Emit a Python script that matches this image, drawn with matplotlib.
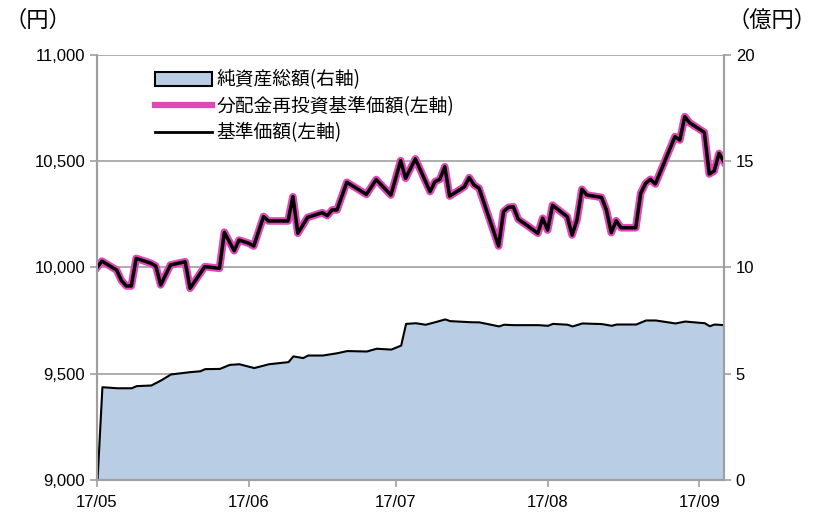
import matplotlib
matplotlib.use("Agg")
import matplotlib.pyplot as plt
import matplotlib.dates as mdates
from matplotlib.patches import Patch
from matplotlib.lines import Line2D
from matplotlib.ticker import FuncFormatter, MultipleLocator
import pandas as pd

plt.rcParams['font.family'] = ['Liberation Sans', 'Noto Sans CJK JP', 'DejaVu Sans']

# NAV (left axis, yen)
nav_dates = ["2017-05-01", "2017-05-02", "2017-05-05", "2017-05-06", "2017-05-07", "2017-05-08",
             "2017-05-09", "2017-05-12", "2017-05-13", "2017-05-14", "2017-05-16", "2017-05-19",
             "2017-05-20", "2017-05-23", "2017-05-26", "2017-05-27", "2017-05-29", "2017-05-30",
             "2017-06-01", "2017-06-02", "2017-06-04", "2017-06-05", "2017-06-09", "2017-06-10",
             "2017-06-11", "2017-06-13", "2017-06-16", "2017-06-17", "2017-06-18", "2017-06-19",
             "2017-06-21", "2017-06-25", "2017-06-27", "2017-06-30", "2017-07-02", "2017-07-03",
             "2017-07-05", "2017-07-08", "2017-07-09", "2017-07-10", "2017-07-11", "2017-07-12",
             "2017-07-15", "2017-07-16", "2017-07-17", "2017-07-18", "2017-07-22", "2017-07-23",
             "2017-07-24", "2017-07-25", "2017-07-26", "2017-07-28", "2017-07-30", "2017-07-31",
             "2017-08-01", "2017-08-02", "2017-08-05", "2017-08-06", "2017-08-07", "2017-08-08",
             "2017-08-09", "2017-08-12", "2017-08-13", "2017-08-14", "2017-08-15", "2017-08-16",
             "2017-08-19", "2017-08-20", "2017-08-21", "2017-08-22", "2017-08-23", "2017-08-27",
             "2017-08-28", "2017-08-29", "2017-08-30", "2017-09-02", "2017-09-03", "2017-09-04",
             "2017-09-05", "2017-09-06"]
nav = [10000, 10030, 9988, 9938, 9913, 9913,
       10043, 10020, 10007, 9918, 10012, 10027,
       9902, 10004, 9996, 10166, 10079, 10129,
       10114, 10101, 10240, 10219, 10219, 10333,
       10161, 10236, 10258, 10244, 10271, 10271,
       10401, 10344, 10414, 10341, 10503, 10420,
       10511, 10357, 10404, 10415, 10474, 10336,
       10380, 10423, 10388, 10373, 10101, 10263,
       10283, 10286, 10227, 10195, 10161, 10232,
       10176, 10293, 10239, 10153, 10224, 10368,
       10341, 10330, 10271, 10164, 10220, 10187,
       10187, 10349, 10396, 10415, 10393, 10616,
       10600, 10710, 10681, 10636, 10440, 10454,
       10537, 10498]
# no distributions paid, so the reinvested NAV equals the NAV
nav_reinvested = list(nav)

# net assets (right axis, 100 million yen)
asset_dates = ["2017-05-01", "2017-05-02", "2017-05-05", "2017-05-08", "2017-05-09", "2017-05-12",
               "2017-05-14", "2017-05-16", "2017-05-20", "2017-05-22", "2017-05-23", "2017-05-26",
               "2017-05-28", "2017-05-30", "2017-06-02", "2017-06-05", "2017-06-09", "2017-06-10",
               "2017-06-12", "2017-06-13", "2017-06-16", "2017-06-19", "2017-06-21", "2017-06-25",
               "2017-06-27", "2017-06-30", "2017-07-02", "2017-07-03", "2017-07-05", "2017-07-07",
               "2017-07-09", "2017-07-11", "2017-07-12", "2017-07-16", "2017-07-18", "2017-07-22",
               "2017-07-23", "2017-07-25", "2017-07-30", "2017-08-01", "2017-08-02", "2017-08-05",
               "2017-08-06", "2017-08-08", "2017-08-12", "2017-08-14", "2017-08-15", "2017-08-19",
               "2017-08-21", "2017-08-23", "2017-08-27", "2017-08-29", "2017-09-02", "2017-09-03",
               "2017-09-04", "2017-09-06"]
net_assets = [0, 4.39, 4.34, 4.34, 4.44, 4.47,
              4.71, 4.99, 5.10, 5.14, 5.24, 5.25,
              5.44, 5.47, 5.29, 5.47, 5.57, 5.84,
              5.76, 5.88, 5.88, 5.99, 6.09, 6.07,
              6.20, 6.16, 6.35, 7.37, 7.40, 7.33,
              7.45, 7.58, 7.50, 7.45, 7.44, 7.25,
              7.33, 7.31, 7.31, 7.28, 7.37, 7.33,
              7.25, 7.39, 7.36, 7.28, 7.34, 7.34,
              7.53, 7.53, 7.39, 7.48, 7.40, 7.26,
              7.34, 7.31]

labels = ["純資産総額(右軸)", "分配金再投資基準価額(左軸)", "基準価額(左軸)"]

nd = pd.to_datetime(nav_dates)
ad = pd.to_datetime(asset_dates)

fig = plt.figure(figsize=(8.18, 5.17), dpi=100)
ax = fig.add_axes([0.1186, 0.0716, 0.7664, 0.822])
ax2 = ax.twinx()

grid_c = '#a0a0a0'

# area on the back axis, ticks on the right
ax.fill_between(ad, net_assets, 0, facecolor='#B9CDE5', edgecolor='black', linewidth=1.5, zorder=2)
ax.set_ylim(0, 20)
ax.yaxis.set_major_locator(MultipleLocator(5))
ax.yaxis.tick_right()
ax.yaxis.set_label_position('right')
ax.grid(axis='y', color=grid_c, linewidth=1.2, zorder=0)
ax.set_axisbelow(True)

# lines on the front axis, ticks on the left
ax2.plot(nd, nav_reinvested, color='#E048B8', linewidth=5.5, solid_joinstyle='round')
ax2.plot(nd, nav, color='black', linewidth=2.5, solid_joinstyle='round')
ax2.set_ylim(9000, 11000)
ax2.yaxis.set_major_locator(MultipleLocator(500))
ax2.yaxis.set_major_formatter(FuncFormatter(lambda v, p: f"{int(v):,}"))
ax2.yaxis.tick_left()

ax.set_xlim(pd.Timestamp("2017-05-01"), pd.Timestamp("2017-09-06"))
ax.xaxis.set_major_locator(mdates.MonthLocator())
ax.xaxis.set_major_formatter(mdates.DateFormatter('%y/%m'))

for a in (ax, ax2):
    for s in a.spines.values():
        s.set_color(grid_c)
        s.set_linewidth(1.5)
    a.spines['top'].set_visible(False)
    a.tick_params(colors=grid_c, labelcolor='black', labelsize=12, length=5, width=1.2)
ax.tick_params(axis='x', pad=6)

handles = [Patch(facecolor='#B9CDE5', edgecolor='black', linewidth=1.5),
           Line2D([], [], color='#E048B8', linewidth=4.5),
           Line2D([], [], color='black', linewidth=2)]
ax2.legend(handles, labels, loc='upper left', bbox_to_anchor=(0.075, 0.993), frameon=False,
           prop={'family': ['Noto Sans CJK JP'], 'size': 13.5}, handlelength=3.0,
           handleheight=0.8, labelspacing=0.3, handletextpad=0.25, borderaxespad=0.2)

fig.text(0.006, 0.96, "（円）", fontsize=16, family=['Noto Sans CJK JP'], va='center', ha='left')
fig.text(0.998, 0.96, "（億円）", fontsize=16, family=['Noto Sans CJK JP'], va='center', ha='right')

fig.savefig('out.png', dpi=100)
